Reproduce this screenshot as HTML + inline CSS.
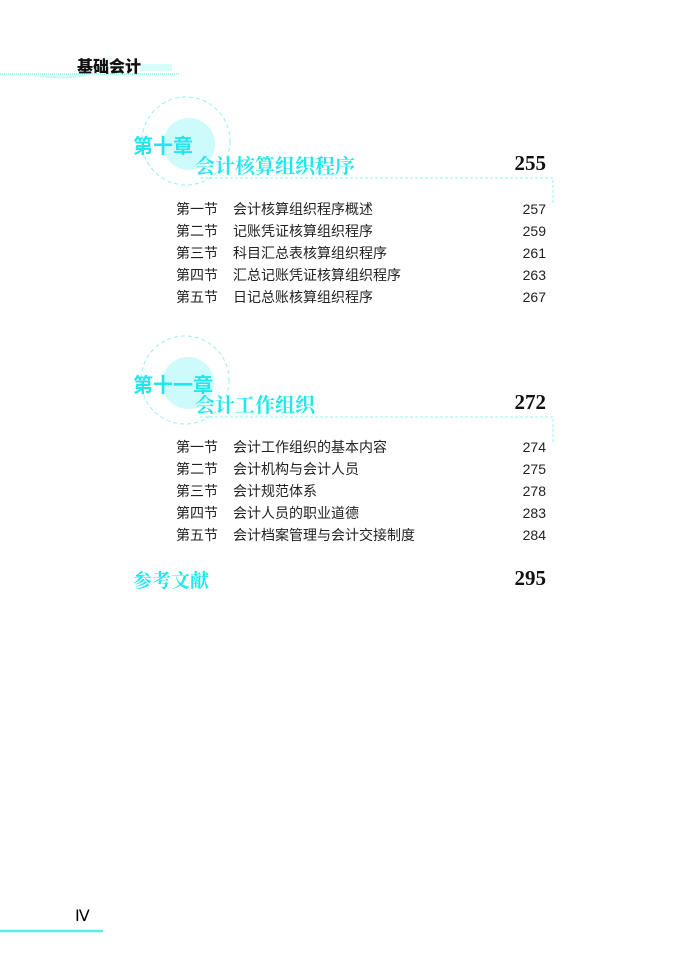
<!DOCTYPE html>
<html><head><meta charset="utf-8"><style>
body{margin:0;width:700px;height:975px;background:#fff;position:relative;overflow:hidden;font-family:"Liberation Sans","Noto Sans CJK SC",sans-serif}
.a{position:absolute;white-space:nowrap}
.ch{font-family:"Liberation Sans","Noto Sans CJK SC",sans-serif;font-weight:bold;color:#22e6ee;font-size:20px;letter-spacing:0}
.ti{font-family:"Liberation Serif","Noto Serif CJK SC",serif;font-weight:bold;color:#22e6ee;font-size:20px;letter-spacing:0}
.pn{font-family:"Liberation Serif",serif;font-weight:bold;font-size:21px;color:#111}
.e{font-size:14px;color:#222;line-height:16px}
.e span{position:absolute;left:57px}
.r{position:absolute;right:154px;font-size:14px;color:#222;line-height:16px}
</style></head><body>
<svg class="a" style="left:0;top:0" width="700" height="975">
<rect x="140" y="64" width="32" height="7" fill="#d6fcfc"/>
<line x1="0" y1="74" x2="180" y2="74" stroke="#55eeee" stroke-dasharray="1,1"/>
<path d="M40 76 Q75 80 95 72" stroke="#c8f8f8" stroke-width="2" fill="none"/>
<circle cx="113" cy="66" r="8" fill="none" stroke="#aaf4f4" stroke-dasharray="1,1"/>
<circle cx="189" cy="144" r="26" fill="#cdfafa"/>
<circle cx="186" cy="141" r="44" fill="none" stroke="#99f0f0" stroke-dasharray="4,3"/>
<path d="M200 178 H553 V205" fill="none" stroke="#99f0f0" stroke-dasharray="3,2"/>
<circle cx="188" cy="383" r="26" fill="#cdfafa"/>
<circle cx="185" cy="380" r="44" fill="none" stroke="#99f0f0" stroke-dasharray="4,3"/>
<path d="M200 417 H553 V444" fill="none" stroke="#99f0f0" stroke-dasharray="3,2"/>
<line x1="0" y1="931" x2="103" y2="931" stroke="#55eeee" stroke-width="2.5"/>
</svg>
<div class="a" style="left:77px;top:53px;font-size:16px;font-weight:900;color:#111;letter-spacing:0">基础会计</div>
<div class="a" style="left:75px;top:906px;font-family:'Liberation Serif',serif;font-size:16px">Ⅳ</div>

<div class="a ch" style="left:133px;top:130px">第十章</div>
<div class="a ti" style="left:195px;top:150px">会计核算组织程序</div>
<div class="a pn" style="right:154px;top:151px">255</div>
<div class="a e" style="left:176px;top:201px">第一节<span>会计核算组织程序概述</span></div><div class="r" style="top:201px">257</div>
<div class="a e" style="left:176px;top:223px">第二节<span>记账凭证核算组织程序</span></div><div class="r" style="top:223px">259</div>
<div class="a e" style="left:176px;top:245px">第三节<span>科目汇总表核算组织程序</span></div><div class="r" style="top:245px">261</div>
<div class="a e" style="left:176px;top:267px">第四节<span>汇总记账凭证核算组织程序</span></div><div class="r" style="top:267px">263</div>
<div class="a e" style="left:176px;top:289px">第五节<span>日记总账核算组织程序</span></div><div class="r" style="top:289px">267</div>

<div class="a ch" style="left:133px;top:369px">第十一章</div>
<div class="a ti" style="left:195px;top:389px">会计工作组织</div>
<div class="a pn" style="right:154px;top:390px">272</div>
<div class="a e" style="left:176px;top:439px">第一节<span>会计工作组织的基本内容</span></div><div class="r" style="top:439px">274</div>
<div class="a e" style="left:176px;top:461px">第二节<span>会计机构与会计人员</span></div><div class="r" style="top:461px">275</div>
<div class="a e" style="left:176px;top:483px">第三节<span>会计规范体系</span></div><div class="r" style="top:483px">278</div>
<div class="a e" style="left:176px;top:505px">第四节<span>会计人员的职业道德</span></div><div class="r" style="top:505px">283</div>
<div class="a e" style="left:176px;top:527px">第五节<span>会计档案管理与会计交接制度</span></div><div class="r" style="top:527px">284</div>

<div class="a ti" style="left:133px;top:566px;font-size:19px">参考文献</div>
<div class="a pn" style="right:154px;top:566px">295</div>
</body></html>
